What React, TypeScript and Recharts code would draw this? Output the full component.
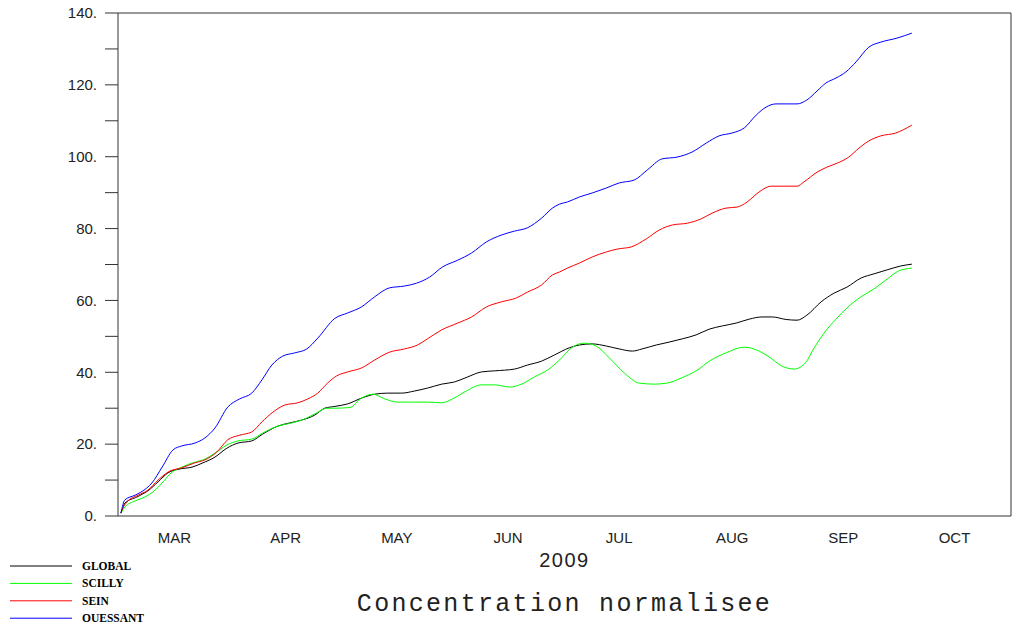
import { LineChart, Line, XAxis, YAxis, Legend, Label } from 'recharts';

// x = days since 1 March 2009, y = normalised concentration
const monthStarts = [0, 31, 61, 92, 122, 153, 184, 214, 245];
const monthNames = ['MAR', 'APR', 'MAY', 'JUN', 'JUL', 'AUG', 'SEP', 'OCT'];
const yTicks = [0, 10, 20, 30, 40, 50, 60, 70, 80, 90, 100, 110, 120, 130, 140];

const globalSeries: [number, number][] = [
  [0.8, 0.8], [1.1, 1.6], [1.9, 3.6], [5.2, 5.3], [8.2, 7], [11, 9.5], [13.7, 12], [17, 13.1],
  [20.3, 13.6], [23.3, 14.8], [26.6, 16.4], [29.9, 18.9], [32.9, 20.3], [36.7, 20.9], [39.7, 22.8],
  [43.8, 25], [47.1, 25.9], [50.4, 26.7], [54, 28.1], [56.7, 30], [59.5, 30.5], [63, 31.2],
  [66.8, 32.8], [70.4, 33.9], [74, 34.2], [77.8, 34.2], [81.4, 34.8], [84.9, 35.6], [88.8, 36.7],
  [92.3, 37.3], [95.9, 38.7], [99.7, 40.1], [103.3, 40.4], [108.8, 40.9], [112.3, 42], [116.2, 43.1],
  [119.7, 44.8], [123.8, 46.8], [126.6, 47.6], [130.1, 47.9], [134, 47.3], [137.5, 46.5], [141.1, 45.9],
  [143.8, 46.5], [147.7, 47.6], [151.2, 48.4], [154.8, 49.3], [158.6, 50.4], [162.2, 52], [165.8, 52.9],
  [169.6, 53.7], [173.2, 54.8], [176.7, 55.4], [179.5, 55.4], [183.3, 54.7], [186.3, 54.5], [189, 55.9],
  [192.9, 59.6], [196.4, 62], [200, 63.7], [203.8, 66.2], [207.4, 67.4], [211, 68.5], [214.8, 69.6],
  [217.8, 70.1],
];

const scillySeries: [number, number][] = [
  [0.8, 0.8], [1.9, 2.5], [4.7, 4.2], [7.4, 5.3], [9.6, 6.7], [12.1, 9.2], [14.8, 12.2], [17.5, 13.6],
  [20.5, 14.8], [23.3, 15.6], [26.6, 17.5], [29.9, 19.8], [32.9, 20.9], [36.7, 21.4], [39.7, 23.1],
  [43.8, 25], [47.7, 25.9], [51.2, 27], [54.5, 28.7], [57.3, 30], [59.5, 30], [63.6, 30.2],
  [66.8, 32.8], [69.9, 33.9], [73.2, 32.6], [76.7, 31.7], [81.4, 31.7], [84.9, 31.7], [88.8, 31.5],
  [91.8, 32.6], [95.6, 34.8], [99.7, 36.5], [103.3, 36.5], [107.4, 35.9], [110.7, 36.7], [114.2, 38.7],
  [117.8, 40.6], [121.1, 43.4], [124.7, 47], [127.9, 48.1], [131.2, 47.3], [134.8, 44], [138.9, 39.8],
  [143, 37], [147.1, 36.7], [150.7, 37], [154.5, 38.4], [158.6, 40.4], [162.7, 43.4], [166.8, 45.4],
  [171.8, 47], [175.9, 45.9], [178.6, 44.3], [182.2, 41.7], [185.5, 40.9], [188.8, 42.9], [191, 46.8],
  [193.7, 50.9], [197, 54.8], [200, 57.9], [203.8, 61], [207.4, 63.2], [210.7, 65.7], [214.2, 68.2],
  [217.8, 69],
];

const seinSeries: [number, number][] = [
  [0.8, 0.8], [1.1, 1.7], [2.5, 3.9], [5.5, 5.8], [8.2, 7.2], [11, 10], [14.2, 12.5], [17.5, 13.4],
  [21.1, 14.8], [23.8, 15.6], [27.1, 17.8], [30.1, 21.2], [33.4, 22.5], [36.7, 23.4], [39.5, 26.2],
  [42.5, 28.9], [45.8, 30.9], [49.3, 31.5], [52.1, 32.6], [54.8, 34.2], [57.5, 37], [60, 39],
  [63, 40.1], [66.8, 41.2], [70.4, 43.4], [74.5, 45.6], [78.6, 46.5], [82.2, 47.6], [84.9, 49.3],
  [88.8, 51.8], [93.2, 53.7], [97, 55.4], [101.1, 58.2], [105.2, 59.6], [109.3, 60.7], [112.3, 62.3],
  [116.2, 64.3], [119.2, 67.1], [121.1, 67.9], [123.3, 69], [126.6, 70.4], [130.1, 72.1], [134, 73.5],
  [137, 74.3], [140.8, 74.9], [144.9, 77.1], [148.5, 79.6], [152.1, 81], [156.2, 81.5], [160, 82.7],
  [163, 84.3], [166.8, 85.7], [169.9, 86], [172.6, 87.4], [175.9, 90.2], [179.2, 91.8], [182.7, 91.8],
  [186.3, 91.8], [188.2, 93], [191.8, 95.7], [194.5, 97.1], [197.3, 98.2], [200.5, 99.9], [203.3, 102.4],
  [206, 104.4], [209.3, 105.8], [213.4, 106.6], [217.8, 108.8],
];

const ouessantSeries: [number, number][] = [
  [0.8, 0.8], [1.9, 4.5], [4.7, 5.8], [7.9, 7.8], [9.3, 9.2], [12.1, 13.6], [15.1, 18.4], [17.5, 19.5],
  [21.1, 20.3], [23.8, 21.7], [26.6, 24.5], [30.1, 30.3], [33.4, 32.6], [36.7, 34.2], [39.5, 37.9],
  [42.2, 42], [45.2, 44.5], [48.5, 45.4], [51.8, 46.5], [54.8, 49.5], [59.5, 55], [63, 56.5],
  [66.8, 58.2], [70.4, 61], [74.5, 63.5], [78.6, 64], [81.9, 64.8], [85.5, 66.5], [89, 69.3],
  [93.2, 71.2], [97, 73.2], [101.1, 76.3], [105.2, 78.2], [108.8, 79.3], [112.3, 80.2], [116.2, 82.9],
  [119.2, 85.7], [121.1, 86.8], [123.3, 87.4], [126.6, 88.8], [130.1, 89.9], [134, 91.3], [137.5, 92.7],
  [141.6, 93.5], [145.2, 96.3], [149.3, 99.4], [153.4, 99.9], [157.5, 101.3], [161.4, 103.8], [164.9, 105.8],
  [168.5, 106.6], [171.8, 108], [175.1, 111.6], [177.8, 113.8], [180.5, 114.7], [184.9, 114.7], [186.3, 114.7],
  [189, 115.8], [191.8, 118.3], [194.2, 120.5], [197, 121.9], [199.7, 123.6], [202.5, 126.4], [206, 130.5],
  [209.3, 131.9], [213.7, 133], [217.8, 134.4],
];

const series = [
  { name: 'GLOBAL', color: '#000000', data: globalSeries },
  { name: 'SCILLY', color: '#00ff00', data: scillySeries },
  { name: 'SEIN', color: '#ff0000', data: seinSeries },
  { name: 'OUESSANT', color: '#0000ff', data: ouessantSeries },
];

const monthMids = monthNames.map((_, i) => (monthStarts[i] + monthStarts[i + 1]) / 2);

const toPoints = (pairs: [number, number][]) => pairs.map(([day, value]) => ({ day, value }));

const AXIS = '#333333';
const labelFont = { fill: '#222222', fontSize: 15, fontFamily: 'Liberation Sans, Arial, sans-serif' };

const LegendBox = () => (
  <svg width={170} height={72}>
    {series.map((s, i) => (
      <g key={s.name}>
        <line x1={10} x2={72} y1={10 + i * 17.4} y2={10 + i * 17.4} stroke={s.color} strokeWidth={1} />
        <text
          x={82}
          y={14 + i * 17.4}
          fontFamily="Liberation Serif, serif"
          fontWeight="bold"
          fontSize={11.5}
          fill="#000"
        >
          {s.name}
        </text>
      </g>
    ))}
  </svg>
);

export default function App() {
  return (
    <div style={{ position: 'absolute', left: 0, top: 0, width: 1016, height: 628, background: '#fff' }}>
      <LineChart width={1016} height={628} margin={{ top: 0, right: 0, bottom: 0, left: 0 }}>
        <XAxis
          xAxisId="top"
          orientation="top"
          type="number"
          dataKey="day"
          domain={[0, 245]}
          ticks={monthStarts}
          tick={false}
          tickSize={6}
          height={13}
          stroke={AXIS}
          allowDataOverflow
        />
        <XAxis
          type="number"
          dataKey="day"
          domain={[0, 245]}
          ticks={monthStarts}
          tick={false}
          tickSize={6}
          height={7}
          stroke={AXIS}
          allowDataOverflow
        />
        <XAxis
          xAxisId="months"
          type="number"
          dataKey="day"
          domain={[0, 245]}
          ticks={monthMids}
          interval={0}
          tickFormatter={(v: number) => monthNames[monthMids.indexOf(v)] ?? ''}
          axisLine={false}
          tickLine={false}
          tickSize={0}
          tickMargin={9}
          height={105}
          tick={labelFont}
          allowDataOverflow
        >
          <Label
            value="2009"
            position="insideTop"
            offset={30}
            fill="#222"
            fontSize={20}
            letterSpacing={1.5}
            fontFamily="Liberation Sans, Arial, sans-serif"
          />
          <Label
            value="Concentration normalisee"
            position="insideTop"
            offset={70}
            fill="#222"
            fontSize={25}
            letterSpacing={2.3}
            fontFamily="Liberation Mono, monospace"
          />
        </XAxis>
        <YAxis
          type="number"
          domain={[0, 140]}
          ticks={yTicks}
          interval={0}
          tickFormatter={(v: number) => (v % 20 === 0 ? `${v}.` : '')}
          width={118}
          tickSize={13}
          tickMargin={8}
          stroke={AXIS}
          tick={labelFont}
          allowDataOverflow
        />
        <YAxis
          yAxisId="right"
          orientation="right"
          type="number"
          domain={[0, 140]}
          ticks={yTicks}
          tick={false}
          tickSize={6}
          width={5}
          stroke={AXIS}
          allowDataOverflow
        />
        <Legend
          layout="horizontal"
          verticalAlign="middle"
          align="center"
          content={<LegendBox />}
          wrapperStyle={{ left: 0, top: 556, width: 170, height: 72 }}
        />
        {series.map((s) => (
          <Line
            key={s.name}
            name={s.name}
            data={toPoints(s.data)}
            dataKey="value"
            type="monotone"
            stroke={s.color}
            strokeWidth={1}
            dot={false}
            isAnimationActive={false}
          />
        ))}
      </LineChart>
    </div>
  );
}
